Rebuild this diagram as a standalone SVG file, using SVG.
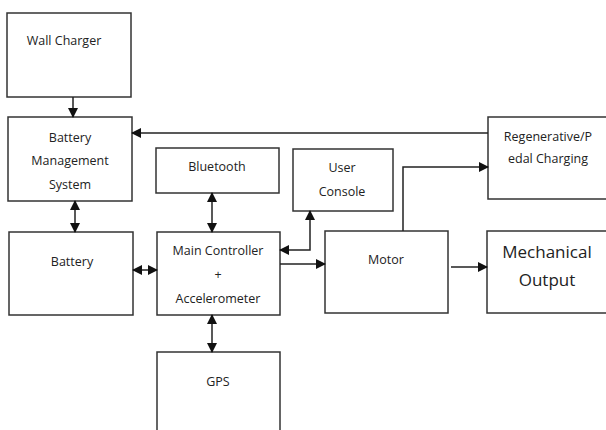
<svg xmlns="http://www.w3.org/2000/svg" width="606" height="430" viewBox="0 0 606 430">
<style>
.box{fill:#fff;stroke:#333;stroke-width:1.5}
.t{font-family:"Open Sans","Noto Sans",sans-serif;font-size:12.5px;fill:#222;text-anchor:middle}
.big{font-size:17px}
.c{fill:none;stroke:#222;stroke-width:1.5}
</style>
<defs>
<marker id="ah" markerWidth="10" markerHeight="10" refX="9" refY="5" orient="auto" markerUnits="userSpaceOnUse">
<path d="M0,0 L10,5 L0,10 Z" fill="#111"/>
</marker>
<marker id="as" markerWidth="10" markerHeight="10" refX="1" refY="5" orient="auto" markerUnits="userSpaceOnUse">
<path d="M10,0 L0,5 L10,10 Z" fill="#111"/>
</marker>
</defs>
<rect width="606" height="430" fill="#fff"/>
<g id="wall-charger"><rect class="box" x="7" y="13" width="124" height="84"/><text class="t" x="64" y="45">Wall Charger</text></g>
<g id="bms"><rect class="box" x="8" y="117" width="124" height="84"/><text class="t" x="70" y="142">Battery</text><text class="t" x="70" y="165">Management</text><text class="t" x="70" y="189">System</text></g>
<g id="bluetooth"><rect class="box" x="156" y="148" width="123" height="45"/><text class="t" x="217" y="171">Bluetooth</text></g>
<g id="user-console"><rect class="box" x="293" y="149" width="100" height="62"/><text class="t" x="342" y="172">User</text><text class="t" x="342" y="196">Console</text></g>
<g id="regen"><rect class="box" x="488" y="117" width="125" height="82"/><text class="t" x="548" y="141">Regenerative/P</text><text class="t" x="548" y="163">edal Charging</text></g>
<g id="battery"><rect class="box" x="9" y="232" width="124" height="83"/><text class="t" x="72" y="266">Battery</text></g>
<g id="main-controller"><rect class="box" x="157" y="232" width="123" height="83"/><text class="t" x="218" y="255">Main Controller</text><text class="t" x="218" y="279">+</text><text class="t" x="218" y="303">Accelerometer</text></g>
<g id="motor"><rect class="box" x="325" y="231" width="123" height="82"/><text class="t" x="386" y="264">Motor</text></g>
<g id="mechanical-output"><rect class="box" x="487" y="231" width="125" height="82"/><text class="t big" x="547" y="258">Mechanical</text><text class="t big" x="547" y="286">Output</text></g>
<g id="gps"><rect class="box" x="157" y="352" width="123" height="90"/><text class="t" x="218" y="386">GPS</text></g>
<g id="connectors">
<line class="c" x1="73" y1="97" x2="73" y2="117" marker-end="url(#ah)"/>
<line class="c" x1="488" y1="133" x2="132" y2="133" marker-end="url(#ah)"/>
<line class="c" x1="75" y1="201" x2="75" y2="232" marker-start="url(#as)" marker-end="url(#ah)"/>
<line class="c" x1="212" y1="193" x2="212" y2="232" marker-start="url(#as)" marker-end="url(#ah)"/>
<line class="c" x1="133" y1="270" x2="157" y2="270" marker-start="url(#as)" marker-end="url(#ah)"/>
<line class="c" x1="212" y1="315" x2="212" y2="352" marker-start="url(#as)" marker-end="url(#ah)"/>
<polyline class="c" points="280,250 310,250 310,211" marker-start="url(#as)" marker-end="url(#ah)"/>
<line class="c" x1="280" y1="264" x2="325" y2="264" marker-end="url(#ah)"/>
<polyline class="c" points="403,231 403,167 488,167" marker-end="url(#ah)"/>
<line class="c" x1="451" y1="267" x2="487" y2="267" marker-end="url(#ah)"/>
</g>
</svg>
